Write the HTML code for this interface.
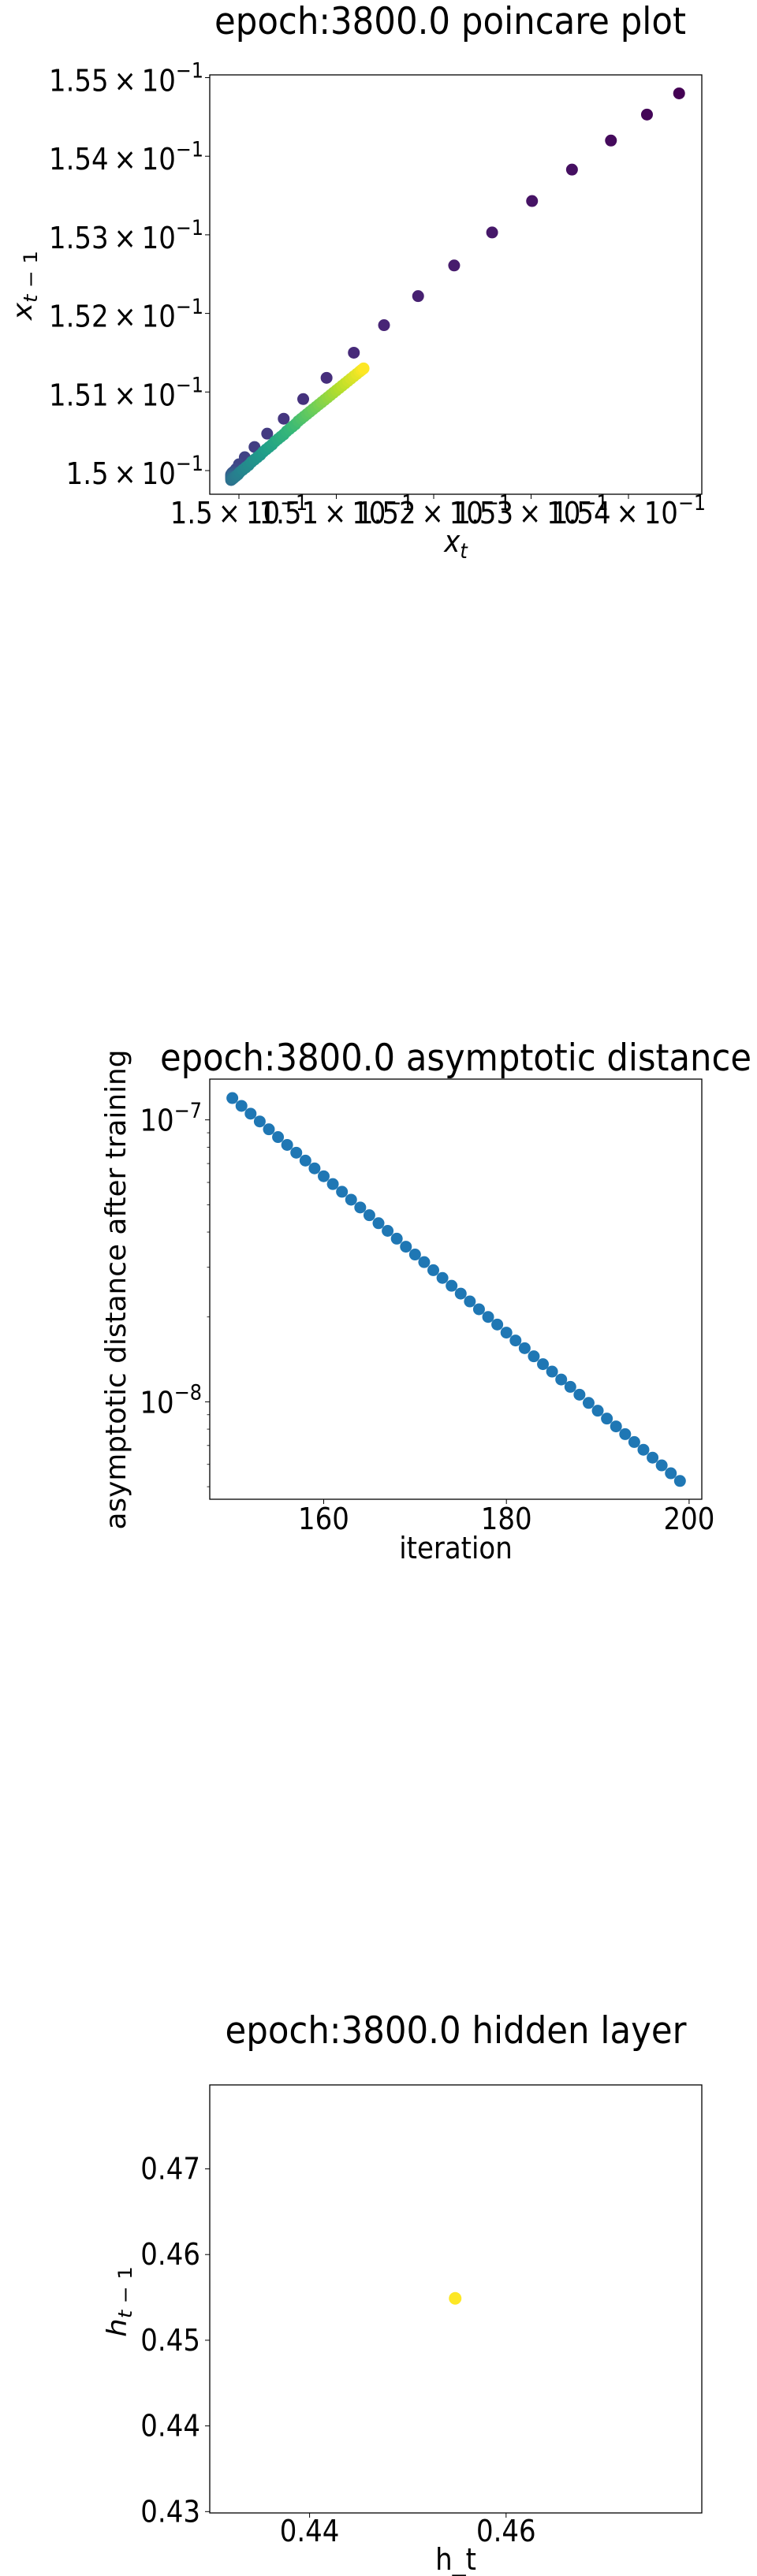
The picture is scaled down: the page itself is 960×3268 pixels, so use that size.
<!DOCTYPE html>
<html><head><meta charset="utf-8"><style>
html,body{margin:0;padding:0;background:#fff;}
svg{display:block;}
text{font-family:"DejaVu Sans","Liberation Sans",sans-serif;fill:#000;}
</style></head><body>
<svg id="fig" width="960" height="3268" viewBox="0 0 960 3268" xmlns="http://www.w3.org/2000/svg"></svg>
<script>
// ---------- Plot 1 data: poincare plot ----------
const poincareXt = [0.150452,0.150419,0.150382,0.150342,0.150301,0.150260,0.150221,0.150184,0.150149,0.150118,0.150090,0.150066,0.150046,0.150029,0.150016,0.150006,0.150000,0.149997,
 0.149995,0.149994,0.149993,0.149993,0.149992,0.149992,0.149992,0.149992,0.149992,0.149992,
 0.149992,0.149993,0.149994,0.149995,0.149997,0.149999,0.150001,0.150004,0.150007,0.150010,0.150013,0.150016,0.150019,0.150022,0.150025,0.150028,0.150031,0.150034,0.150037,0.150040,0.150043,0.150046,0.150049,0.150052,0.150055,0.150058,0.150061,0.150064,0.150067,0.150070,0.150073,0.150076,0.150079,0.150082,0.150085,0.150088,0.150091,0.150094,0.150097,0.150100,0.150103,0.150106,0.150109,0.150112,0.150115,0.150118,0.150121,0.150124,0.150126,0.150128];
const poincareXtm1 = [0.150480,0.150453,0.150420,0.150383,0.150343,0.150303,0.150261,0.150222,0.150185,0.150150,0.150118,0.150091,0.150066,0.150047,0.150030,0.150017,0.150008,0.150002,
 0.149999,0.149998,0.149997,0.149996,0.149995,0.149994,0.149993,0.149992,0.149991,0.149990,
 0.149988,0.149989,0.149990,0.149991,0.149993,0.149995,0.149998,0.150001,0.150004,0.150007,0.150011,0.150014,0.150017,0.150020,0.150024,0.150027,0.150030,0.150033,0.150037,0.150040,0.150043,0.150046,0.150050,0.150053,0.150056,0.150059,0.150063,0.150066,0.150069,0.150072,0.150075,0.150078,0.150081,0.150084,0.150087,0.150090,0.150093,0.150096,0.150099,0.150102,0.150105,0.150108,0.150111,0.150114,0.150117,0.150120,0.150123,0.150126,0.150128,0.150130];
const poincareXTicks = [0.1500,0.1501,0.1502,0.1503,0.1504];
const poincareXTickLabels = ["1.5","1.51","1.52","1.53","1.54"];
const poincareYTicks = [0.1500,0.1501,0.1502,0.1503,0.1504,0.1505];
const poincareYTickLabels = ["1.5","1.51","1.52","1.53","1.54","1.55"];

// ---------- Plot 2 data: asymptotic distance ----------
const iterations = [150,151,152,153,154,155,156,157,158,159,160,161,162,163,164,165,166,167,168,169,170,171,172,173,174,175,176,177,178,179,180,181,182,183,184,185,186,187,188,189,190,191,192,193,194,195,196,197,198,199];
const distances = [1.195e-7,1.121e-7,1.052e-7,9.87e-8,9.26e-8,8.69e-8,8.15e-8,7.65e-8,7.17e-8,6.73e-8,6.31e-8,5.92e-8,5.56e-8,5.21e-8,4.89e-8,4.59e-8,4.30e-8,4.04e-8,3.79e-8,3.55e-8,3.33e-8,3.13e-8,2.93e-8,2.75e-8,2.58e-8,2.42e-8,2.27e-8,2.13e-8,2.00e-8,1.88e-8,1.76e-8,1.65e-8,1.55e-8,1.45e-8,1.36e-8,1.28e-8,1.20e-8,1.13e-8,1.06e-8,9.91e-9,9.30e-9,8.72e-9,8.18e-9,7.68e-9,7.20e-9,6.76e-9,6.34e-9,5.95e-9,5.58e-9,5.24e-9];
const distXTicks = [160,180,200];
const distYMajorExp = [-7,-8];
const distYMinor = [2e-8,3e-8,4e-8,5e-8,6e-8,7e-8,8e-8,9e-8,5e-9,6e-9,7e-9,8e-9,9e-9];

// ---------- Plot 3 data: hidden layer ----------
const hiddenHt = [0.45482];
const hiddenHtm1 = [0.45489];
const hiddenXTicks = [0.44,0.46];
const hiddenYTicks = [0.43,0.44,0.45,0.46,0.47];

const NS="http://www.w3.org/2000/svg";
const svg=document.getElementById('fig');
const VS=1.12;
function el(tag,attrs,parent){const e=document.createElementNS(NS,tag);for(const k in attrs)e.setAttribute(k,attrs[k]);
  if(tag==='text'&&!attrs.transform){const x=attrs.x,y=attrs.y;e.setAttribute('transform','translate('+x+','+y+') scale(1,'+VS+') translate('+(-x)+','+(-y)+')');}
  (parent||svg).appendChild(e);return e;}
const FS=34;
const viridisStops=["#440154","#482878","#3e4a89","#31688e","#26828e","#1f9e89","#35b779","#6ece58","#b5de2b","#fde725"];
function hex2rgb(h){return [parseInt(h.slice(1,3),16),parseInt(h.slice(3,5),16),parseInt(h.slice(5,7),16)];}
function viridis(t){t=Math.max(0,Math.min(1,t));const p=t*(viridisStops.length-1);const i=Math.min(Math.floor(p),viridisStops.length-2);const f=p-i;const a=hex2rgb(viridisStops[i]),b=hex2rgb(viridisStops[i+1]);return 'rgb('+a.map((v,k)=>Math.round(v+(b[k]-v)*f)).join(',')+')';}

function frame(g,L,T,R,B){el('rect',{x:L,y:T,width:R-L,height:B-T,fill:'none',stroke:'#000','stroke-width':1.3},g);}
function sciLabel(g,x,y,mant,anchor){
  const t=el('text',{x:x,y:y,'font-size':FS,'text-anchor':anchor},g);
  t.appendChild(document.createTextNode(mant+"\u2009×\u200910"));
  const s=el('tspan',{'font-size':FS*0.7,dy:-15},t);s.textContent="\u22121";
  return t;
}

// ===== Plot 1 =====
(function(){
  const g=el('g',{});  
  const L=266,R=890,T=95,B=627;
  const X=v=>303+(v-0.15)*1235000, Y=v=>597-(v-0.15)*997000;
  const tt=el('text',{x:571,y:43,'font-size':42,'text-anchor':'middle',textLength:598,lengthAdjust:'spacingAndGlyphs'},g);
  tt.textContent="epoch:3800.0 poincare plot";
   
  frame(g,L,T,R,B);
  const n=poincareXt.length;
  for(let i=0;i<n;i++){
    const c=el('circle',{cx:X(poincareXt[i]),cy:Y(poincareXtm1[i]),r:7.5,fill:viridis(i/(n-1))},g);
     
  }
  poincareXTicks.forEach((v,i)=>{
    el('line',{x1:X(v),x2:X(v),y1:B,y2:B+6,stroke:'#000','stroke-width':1},g);
    const t=sciLabel(g,X(v),664,poincareXTickLabels[i],'middle');
     
  });
  poincareYTicks.forEach((v,i)=>{
    el('line',{x1:L-6,x2:L,y1:Y(v),y2:Y(v),stroke:'#000','stroke-width':1},g);
    const t=sciLabel(g,258,Y(v)+17,poincareYTickLabels[i],'end');
     
  });
  const xl=el('text',{x:578,y:700,'font-size':FS,'text-anchor':'middle'},g);
  xl.innerHTML='<tspan font-style="italic">x</tspan><tspan font-style="italic" font-size="24" dy="7">t</tspan>';
   
  const yl=el('text',{x:0,y:0,'font-size':FS,'text-anchor':'middle',transform:'translate(40,362) rotate(-90) scale(1.1,1)'},g);
  yl.innerHTML='<tspan font-style="italic">x</tspan><tspan font-size="24" dy="7"><tspan font-style="italic">t</tspan> \u2212 1</tspan>';
   
})();

// ===== Plot 2 =====
(function(){
  const g=el('g',{});  
  const L=266,R=890,T=1369,B=1902;
  const X=v=>410.5+(v-160)*11.585;
  const Y=v=>1420.7-(Math.log10(v)+7)*357.7;
  const tt=el('text',{x:578,y:1358,'font-size':42,'text-anchor':'middle',textLength:750,lengthAdjust:'spacingAndGlyphs'},g);
  tt.textContent="epoch:3800.0 asymptotic distance";
   
  frame(g,L,T,R,B);
  iterations.forEach((it,i)=>{
    const c=el('circle',{cx:X(it),cy:Y(distances[i]),r:7.5,fill:'#1f77b4'},g);
     
  });
  distXTicks.forEach(v=>{
    el('line',{x1:X(v),x2:X(v),y1:B,y2:B+6,stroke:'#000','stroke-width':1},g);
    const t=el('text',{x:X(v),y:1940,'font-size':FS,'text-anchor':'middle'},g); t.textContent=String(v);
     
  });
  distYMajorExp.forEach(e=>{
    const y=Y(Math.pow(10,e));
    el('line',{x1:L-6,x2:L,y1:y,y2:y,stroke:'#000','stroke-width':1},g);
    const t=el('text',{x:256,y:y+14,'font-size':FS,'text-anchor':'end'},g);
    t.innerHTML='10<tspan font-size="24" dy="-15">\u2212'+(-e)+'</tspan>';
     
  });
  distYMinor.forEach(v=>{const y=Y(v);if(y>T&&y<B)el('line',{x1:L-3.5,x2:L,y1:y,y2:y,stroke:'#000','stroke-width':0.8},g);});
  const xl=el('text',{x:578,y:1977,'font-size':FS,'text-anchor':'middle'},g); xl.textContent="iteration";
   
  const yl=el('text',{x:0,y:0,'font-size':FS,'text-anchor':'middle',textLength:609,lengthAdjust:'spacingAndGlyphs',transform:'translate(159,1636) rotate(-90) scale(1,1.05)'},g);
  yl.textContent="asymptotic distance after training";
   
})();

// ===== Plot 3 =====
(function(){
  const g=el('g',{});  
  const L=266,R=890,T=2645,B=3188;
  const X=v=>392.6+(v-0.44)*12460, Y=v=>2968.9-(v-0.45)*10870;
  const tt=el('text',{x:578,y:2592,'font-size':42,'text-anchor':'middle',textLength:585,lengthAdjust:'spacingAndGlyphs'},g);
  tt.textContent="epoch:3800.0 hidden layer";
   
  frame(g,L,T,R,B);
  hiddenHt.forEach((v,i)=>{
    const c=el('circle',{cx:X(v),cy:Y(hiddenHtm1[i]),r:8,fill:'#fde725'},g);
     
  });
  hiddenXTicks.forEach(v=>{
    el('line',{x1:X(v),x2:X(v),y1:B,y2:B+6,stroke:'#000','stroke-width':1},g);
    const t=el('text',{x:X(v),y:3224,'font-size':FS,'text-anchor':'middle'},g); t.textContent=v.toFixed(2);
     
  });
  hiddenYTicks.forEach(v=>{
    el('line',{x1:L-6,x2:L,y1:Y(v),y2:Y(v),stroke:'#000','stroke-width':1},g);
    const t=el('text',{x:254,y:Y(v)+13,'font-size':FS,'text-anchor':'end'},g); t.textContent=v.toFixed(2);
     
  });
  const xl=el('text',{x:578,y:3260,'font-size':FS,'text-anchor':'middle'},g); xl.textContent="h_t";
   
  const yl=el('text',{x:0,y:0,'font-size':FS,'text-anchor':'middle',transform:'translate(160,2920) rotate(-90) scale(1.1,1)'},g);
  yl.innerHTML='<tspan font-style="italic">h</tspan><tspan font-size="24" dy="7"><tspan font-style="italic">t</tspan> \u2212 1</tspan>';
   
})();
</script>
</body></html>
